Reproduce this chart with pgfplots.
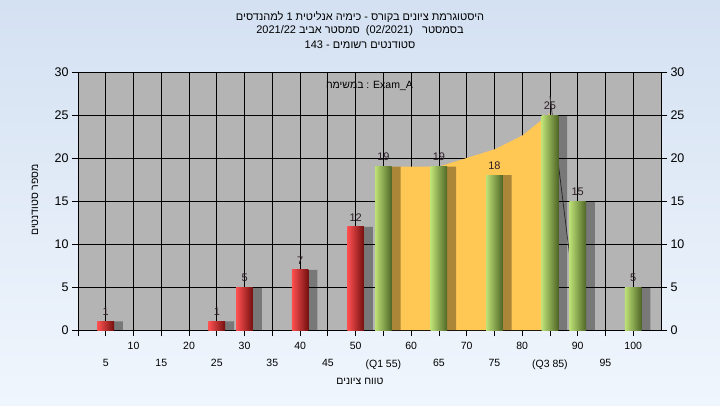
\documentclass[border=0pt]{standalone}
\usepackage{fontspec}
\setmainfont{Liberation Sans}
\newfontfamily\hebfont[Script=Hebrew]{Liberation Sans}
\TeXXeTstate=1
\usepackage{pgfplots}
\pgfplotsset{compat=1.18}
\definecolor{bgtop}{RGB}{212,225,242}
\definecolor{bgbot}{RGB}{240,246,253}
\definecolor{plotbg}{RGB}{180,180,180}
\definecolor{areaor}{RGB}{255,200,85}
\definecolor{redL}{RGB}{255,80,80}
\definecolor{redM}{RGB}{228,42,42}
\definecolor{redR}{RGB}{115,15,15}
\definecolor{grnL}{RGB}{190,225,118}
\definecolor{grnM}{RGB}{148,188,75}
\definecolor{grnR}{RGB}{78,102,38}
\definecolor{labcol}{RGB}{45,30,40}
\pgfplotsset{
  redbar/.style={ybar, bar width=3, draw=none, left color=redL, middle color=redM, right color=redR},
  grnbar/.style={ybar, bar width=3, draw=none, left color=grnL, middle color=grnM, right color=grnR},
}
\begin{document}
\begin{tikzpicture}[x=1pt,y=1pt]
\useasboundingbox (0,0) rectangle (720,405);
\shade[top color=bgtop, bottom color=bgbot] (0,0) rectangle (720,405);
\node[font=\hebfont\fontsize{11}{13}\selectfont, inner sep=0pt] at (360,388) {\beginR היסטוגרמת ציונים בקורס - כימיה אנליטית 1 למהנדסים\endR};
\node[font=\hebfont\fontsize{11}{13}\selectfont, inner sep=0pt] at (360,374) {\beginR בסמסטר\ \ \ \beginL(02/2021)\endL\ \ סמסטר אביב \beginL2021/22\endL\endR};
\node[font=\hebfont\fontsize{11}{13}\selectfont, inner sep=0pt] at (360,360) {\beginR סטודנטים רשומים - \beginL143\endL\endR};
\node[font=\hebfont\fontsize{10.5}{12}\selectfont, inner sep=0pt] at (360,24) {\beginR טווח ציונים\endR};
\node[font=\hebfont\fontsize{10.5}{12}\selectfont, inner sep=0pt, rotate=90] at (35,205) {\beginR מספר סטודנטים\endR};
\begin{axis}[
  at={(78pt,75pt)}, anchor=south west,
  scale only axis, width=583pt, height=258pt,
  xmin=0, xmax=105, ymin=0, ymax=30,
  axis background/.style={fill=plotbg},
  axis line style={black, line width=1pt},
  grid=major, grid style={black, line width=0.8pt},
  xtick={0,10,...,100}, xticklabels={,10,20,30,40,50,60,70,80,90,100},
  extra x ticks={5,15,...,95},
  extra x tick labels={5,15,25,35,45,(Q1 55),65,75,(Q3 85),95},
  extra x tick style={grid=major, tick label style={yshift=-17pt}},
  xticklabel shift=3pt,
  ytick={0,5,...,30},
  xtick pos=bottom, ytick pos=left,
  tick align=outside, major tick length=6pt,
  tick style={black, line width=0.8pt},
  x tick label style={font=\fontsize{10.5}{12}\selectfont},
  y tick label style={font=\fontsize{12.5}{14}\selectfont},
  /pgf/number format/assume math mode=true,
  every node near coord/.append style={font=\fontsize{11}{12}\selectfont, text=labcol, anchor=south, yshift=2pt},
]
% orange inter-quartile area
\addplot[fill=areaor, draw=none] coordinates {(55,19) (65,19) (75,21) (80,22.6) (85,25.2)} \closedcycle;
% thin curve line
\addplot[draw=black!75, line width=0.8pt] coordinates {(85,27.2) (90.2,0)};
% shadows
\addplot[ybar, bar width=3, bar shift=1.6, fill=black, fill opacity=0.33, draw=none] coordinates {(5,1) (25,1) (30,5) (40,7) (50,12) (55,19) (65,19) (75,18) (85,25) (90,15) (100,5)};
% red bars
\addplot[redbar] coordinates {(5,1)};
\addplot[redbar] coordinates {(25,1)};
\addplot[redbar] coordinates {(30,5)};
\addplot[redbar] coordinates {(40,7)};
\addplot[redbar] coordinates {(50,12)};
% green bars
\addplot[grnbar] coordinates {(55,19)};
\addplot[grnbar] coordinates {(65,19)};
\addplot[grnbar] coordinates {(75,18)};
\addplot[grnbar] coordinates {(85,25)};
\addplot[grnbar] coordinates {(90,15)};
\addplot[grnbar] coordinates {(100,5)};
% value labels
\addplot[only marks, mark=none, nodes near coords, point meta=y] coordinates {(5,1) (25,1) (30,5) (40,7) (50,12) (55,19) (65,19) (75,18) (85,25) (90,15) (100,5)};
\node[font=\fontsize{10.5}{12}\selectfont, inner sep=0pt] at (axis cs:52.5,28.4) {{\hebfont\beginR במשימה\endR} : Exam\_A};
\end{axis}
\begin{axis}[
  at={(78pt,75pt)}, anchor=south west,
  scale only axis, width=583pt, height=258pt,
  xmin=0, xmax=105, ymin=0, ymax=30,
  axis x line=none, axis y line*=right,
  axis line style={black, line width=1pt},
  ytick={0,5,...,30},
  tick align=outside, major tick length=6pt,
  tick style={black, line width=0.8pt},
  y tick label style={font=\fontsize{12.5}{14}\selectfont},
  /pgf/number format/assume math mode=true,
]
\addplot[draw=none] coordinates {(0,0)};
\end{axis}
\end{tikzpicture}
\end{document}
